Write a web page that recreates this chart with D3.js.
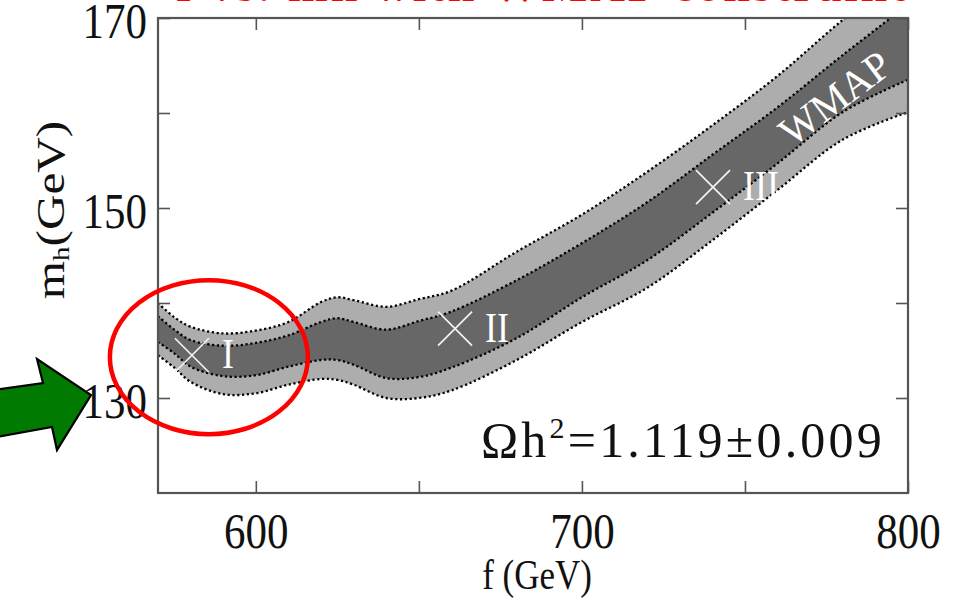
<!DOCTYPE html>
<html lang="en">
<head>
    <meta charset="UTF-8">
    <title>f vs. mh with WMAP constraint</title>
    <script type="text/javascript" src="https://cdn.jsdelivr.net/npm/d3@7/dist/d3.min.js"></script>
    <style type="text/css">
        body { margin: 0; background: #fff; }
        text { font-family: "Liberation Serif", "DejaVu Serif", serif; }
    </style>
</head>
<body>
<script type="text/javascript">

    //Width and height
    var w = 958;
    var h = 603;

    //f (GeV) sample points along the band
    var fVals   = [570, 575, 580, 590, 600, 610, 620, 625, 630, 640, 650, 660, 680, 700, 720, 740, 760, 780, 800];
    //band edges, m_h (GeV)
    var outerHi = [140.0, 138.5, 137.5, 136.8, 137.1, 138.0, 140.1, 140.6, 140.3, 139.6, 140.4, 141.3, 145.4, 149.3, 153.8, 158.7, 163.9, 169.8, 175.1];
    var innerHi = [138.6, 137.2, 136.1, 135.5, 135.8, 136.6, 138.0, 138.4, 138.0, 137.2, 138.1, 139.1, 142.4, 146.3, 150.6, 155.6, 160.6, 166.1, 171.4];
    var innerLo = [135.9, 134.7, 133.3, 132.3, 132.4, 133.3, 134.0, 134.0, 133.5, 132.1, 132.2, 133.2, 136.3, 140.6, 144.5, 149.5, 154.7, 160.1, 163.5];
    var outerLo = [134.5, 133.2, 131.7, 130.4, 130.5, 131.4, 132.0, 131.9, 131.4, 130.0, 130.0, 130.8, 134.0, 138.0, 141.6, 146.6, 151.9, 157.2, 160.1];

    //benchmark points
    var markF = [580.4, 661.1, 740.2];
    var markM = [134.5, 137.3, 152.2];
    var markLabels = ["I", "II", "III"];

    //ticks
    var xTicks = [600, 650, 700, 750, 800];
    var xLabels = [600, 700, 800];
    var yTicks = [130, 140, 150, 160, 170];
    var yLabels = [130, 150, 170];

    var x = d3.scaleLinear().domain([570, 800]).range([158, 908]);
    var y = d3.scaleLinear().domain([120, 170]).range([493, 18]);

    var stretch = 1.2;  //the original figure is a bit taller than wide

    var svg = d3.select("body")
        .append("svg")
        .attr("width", w)
        .attr("height", h);

    svg.append("clipPath").attr("id", "plotclip")
        .append("rect")
        .attr("x", x(570)).attr("y", y(170))
        .attr("width", x(800) - x(570)).attr("height", y(120) - y(170));

    var rows = fVals.map(function(f, i) {
        return { f: f, oh: outerHi[i], ih: innerHi[i], il: innerLo[i], ol: outerLo[i] };
    });

    var curve = d3.curveCatmullRom;
    var band = svg.append("g").attr("clip-path", "url(#plotclip)");

    //outer (light) band
    band.append("path")
        .datum(rows)
        .attr("fill", "#adadad")
        .attr("d", d3.area().curve(curve)
            .x(function(d) { return x(d.f); })
            .y0(function(d) { return y(d.ol); })
            .y1(function(d) { return y(d.oh); }));

    //inner (dark) band
    band.append("path")
        .datum(rows)
        .attr("fill", "#676767")
        .attr("d", d3.area().curve(curve)
            .x(function(d) { return x(d.f); })
            .y0(function(d) { return y(d.il); })
            .y1(function(d) { return y(d.ih); }));

    //dotted edges
    ["oh", "ih", "il", "ol"].forEach(function(k) {
        band.append("path")
            .datum(rows)
            .attr("fill", "none")
            .attr("stroke", "#000")
            .attr("stroke-width", 2.3)
            .attr("stroke-dasharray", "2.2,2.6")
            .attr("d", d3.line().curve(curve)
                .x(function(d) { return x(d.f); })
                .y(function(d) { return y(d[k]); }));
    });

    //WMAP label along the band
    band.append("text")
        .attr("transform", "translate(" + x(777.5) + "," + y(161.6) + ") rotate(-37)")
        .attr("text-anchor", "middle")
        .attr("dy", "0.35em")
        .attr("font-size", "41px")
        .attr("fill", "white")
        .text("WMAP");

    //markers
    var mk = band.selectAll("g.mark")
        .data(markF)
        .enter()
        .append("g")
        .attr("class", "mark")
        .attr("transform", function(d, i) {
            return "translate(" + x(d) + "," + y(markM[i]) + ")";
        });
    mk.append("path")
        .attr("d", "M-17,-17L17,17M-17,17L17,-17")
        .attr("stroke", "#f2f2f2")
        .attr("stroke-width", 1.7);
    mk.append("text")
        .attr("transform", "translate(30,13) scale(1," + stretch + ")")
        .attr("font-size", "36px")
        .attr("fill", "white")
        .text(function(d, i) { return markLabels[i]; });

    //axes, ticks inward
    var tickCol = "#555";
    function styleAxis(g) {
        g.select(".domain").remove();
        g.selectAll(".tick line").attr("stroke", tickCol).attr("stroke-width", 1.6);
        g.selectAll(".tick text")
            .attr("fill", "#111")
            .attr("font-family", "Liberation Serif, serif")
            .attr("transform", "scale(1," + stretch + ")");
    }

    svg.append("g")
        .attr("transform", "translate(0," + y(120) + ")")
        .call(d3.axisBottom(x).tickValues(xTicks).tickSize(-12).tickPadding(15)
            .tickFormat(function(d) { return xLabels.indexOf(d) >= 0 ? d : ""; }))
        .attr("font-size", 43)
        .call(styleAxis);

    svg.append("g")
        .attr("transform", "translate(0," + y(170) + ")")
        .call(d3.axisTop(x).tickValues(xTicks).tickSize(-12).tickFormat(""))
        .call(styleAxis);

    svg.append("g")
        .attr("transform", "translate(" + x(570) + ",0)")
        .call(d3.axisLeft(y).tickValues(yTicks).tickSize(-12).tickPadding(11)
            .tickFormat(function(d) { return yLabels.indexOf(d) >= 0 ? d : ""; }))
        .attr("font-size", 43)
        .call(styleAxis)
        .selectAll(".tick text").attr("dy", "0.38em");

    svg.append("g")
        .attr("transform", "translate(" + x(800) + ",0)")
        .call(d3.axisRight(y).tickValues(yTicks).tickSize(-12).tickFormat(""))
        .call(styleAxis);

    //frame
    svg.append("rect")
        .attr("x", x(570)).attr("y", y(170))
        .attr("width", x(800) - x(570)).attr("height", y(120) - y(170))
        .attr("fill", "none")
        .attr("stroke", tickCol)
        .attr("stroke-width", 2.2);

    //axis titles
    svg.append("text")
        .attr("transform", "translate(537,589) scale(1," + stretch + ")")
        .attr("text-anchor", "middle")
        .attr("font-size", "35px")
        .attr("fill", "#111")
        .text("f (GeV)");

    var yt = svg.append("text")
        .attr("transform", "translate(64,210) scale(1," + stretch + ") rotate(-90)")
        .attr("text-anchor", "middle")
        .attr("font-size", "41px")
        .attr("fill", "#111");
    yt.append("tspan").text("m");
    yt.append("tspan").attr("font-size", "24px").attr("dy", "5").text("h");
    yt.append("tspan").attr("dy", "-5").text("(GeV)");

    //relic density label
    var om = svg.append("text")
        .attr("x", 481).attr("y", 457)
        .attr("font-size", "50px")
        .attr("letter-spacing", "3.2px")
        .attr("fill", "#111");
    om.append("tspan").text("\u03A9h");
    om.append("tspan").attr("font-size", "30px").attr("dy", "-19").text("2");
    om.append("tspan").attr("dy", "19").text("=1.119\u00B10.009");

    //title, mostly above the window
    svg.append("text")
        .attr("x", 176).attr("y", 1)
        .attr("font-size", "48px")
        .attr("font-weight", "bold")
        .attr("fill", "#ff0000")
        .attr("textLength", 730)
        .attr("lengthAdjust", "spacing")
        .text("f vs. mh with WMAP constraint");

    //red ellipse around point I
    svg.append("ellipse")
        .attr("cx", x(585.6)).attr("cy", y(134.3))
        .attr("rx", 99).attr("ry", 77)
        .attr("fill", "none")
        .attr("stroke", "#ff0000")
        .attr("stroke-width", 4.5);

    //green arrow pointing at the 130 label
    svg.append("path")
        .attr("d", "M-20,392L43,383L37,359L91,395L57,450L52,427L-20,440Z")
        .attr("fill", "#007a00")
        .attr("stroke", "#000")
        .attr("stroke-width", 2.2)
        .attr("stroke-linejoin", "miter");
</script>
</body>
</html>
